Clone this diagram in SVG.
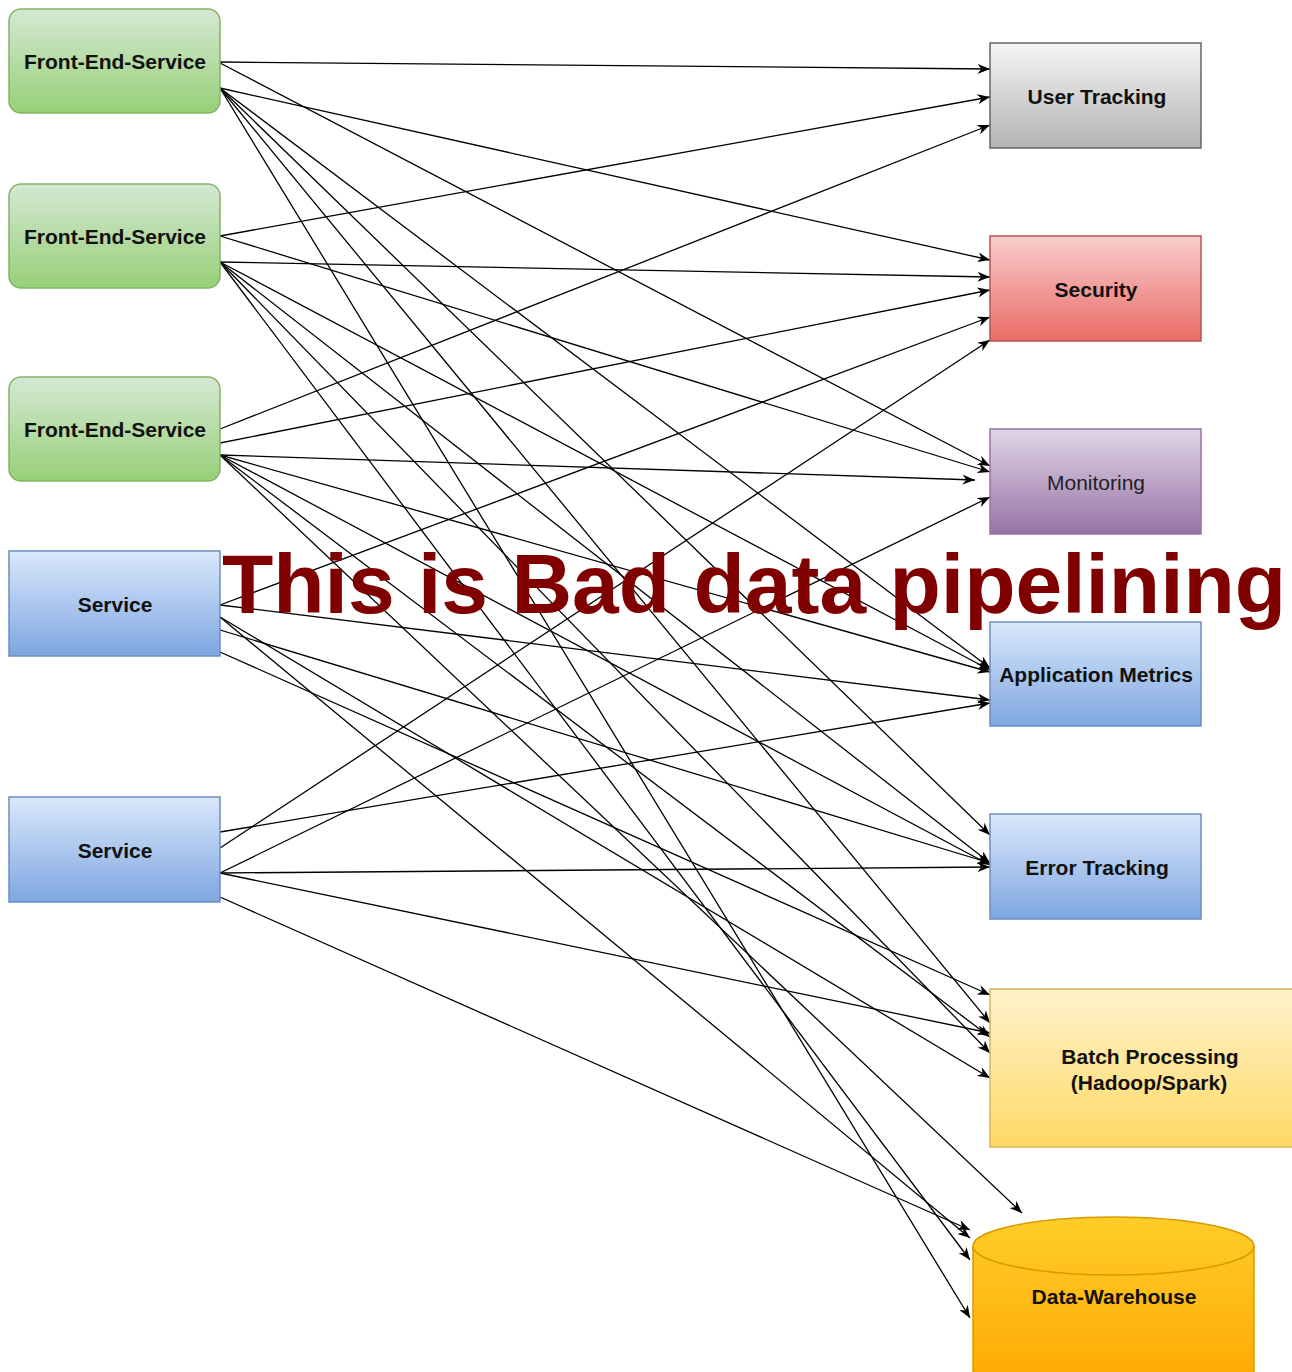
<svg xmlns="http://www.w3.org/2000/svg" width="1292" height="1372" viewBox="0 0 1292 1372">
<defs>
<linearGradient id="gGreen" x1="0" y1="0" x2="0" y2="1"><stop offset="0" stop-color="#d5e8d4"/><stop offset="1" stop-color="#97d077"/></linearGradient>
<linearGradient id="gBlue" x1="0" y1="0" x2="0" y2="1"><stop offset="0" stop-color="#dae8fc"/><stop offset="1" stop-color="#7ea6e0"/></linearGradient>
<linearGradient id="gGray" x1="0" y1="0" x2="0" y2="1"><stop offset="0" stop-color="#f5f5f5"/><stop offset="1" stop-color="#b3b3b3"/></linearGradient>
<linearGradient id="gRed" x1="0" y1="0" x2="0" y2="1"><stop offset="0" stop-color="#f8cecc"/><stop offset="1" stop-color="#ea6b66"/></linearGradient>
<linearGradient id="gPurple" x1="0" y1="0" x2="0" y2="1"><stop offset="0" stop-color="#e1d5e7"/><stop offset="1" stop-color="#9673a6"/></linearGradient>
<linearGradient id="gYellow" x1="0" y1="0" x2="0" y2="1"><stop offset="0" stop-color="#fff2cc"/><stop offset="1" stop-color="#ffd966"/></linearGradient>
<linearGradient id="gOrange" x1="0" y1="0" x2="0" y2="1"><stop offset="0" stop-color="#ffcd28"/><stop offset="1" stop-color="#ffa500"/></linearGradient>
<marker id="arr" viewBox="0 0 10 8" refX="10" refY="4" markerWidth="13" markerHeight="10" orient="auto" markerUnits="userSpaceOnUse"><path d="M0,0 L10,4 L0,8 L3,4 z" fill="#000"/></marker>
</defs>
<style>
.e{fill:none;stroke:#000;stroke-width:1.3;marker-end:url(#arr)}
.lbl{font-family:"Liberation Sans",Arial,sans-serif;font-size:21px;font-weight:bold;fill:#111;text-anchor:middle}
.reg{font-weight:normal;fill:#222}
.green{fill:url(#gGreen);stroke:#82b366;stroke-width:1.5}
.blue{fill:url(#gBlue);stroke:#6c8ebf;stroke-width:1.5}
.gray{fill:url(#gGray);stroke:#666666;stroke-width:1.5}
.red{fill:url(#gRed);stroke:#b85450;stroke-width:1.5}
.purple{fill:url(#gPurple);stroke:#9673a6;stroke-width:1.5}
.yellow{fill:url(#gYellow);stroke:#d6b656;stroke-width:1.5}
.orange{fill:url(#gOrange);stroke:#d79b00;stroke-width:1.5}
.title{font-family:"Liberation Sans",Arial,sans-serif;font-size:84px;font-weight:bold;fill:#800000}
</style>
<rect width="1292" height="1372" fill="#fff"/>

<g id="connectors">
<path class="e" d="M220,62 L990,69"/>
<path class="e" d="M220,88 L990,260"/>
<path class="e" d="M220,63 L990,466"/>
<path class="e" d="M220,88 L990,668"/>
<path class="e" d="M220,88 L990,835"/>
<path class="e" d="M220,88 L990,1023"/>
<path class="e" d="M220,88 L970,1318"/>

<path class="e" d="M220,236 L990,97"/>
<path class="e" d="M220,262 L990,277"/>
<path class="e" d="M220,236 L990,472"/>
<path class="e" d="M220,262 L990,670"/>
<path class="e" d="M220,262 L990,863"/>
<path class="e" d="M220,262 L990,1053"/>
<path class="e" d="M220,262 L970,1260"/>

<path class="e" d="M220,429 L990,125"/>
<path class="e" d="M220,443 L990,290"/>
<path class="e" d="M220,455 L975,480"/>
<path class="e" d="M220,455 L990,672"/>
<path class="e" d="M220,455 L990,865"/>
<path class="e" d="M220,455 L990,1037"/>
<path class="e" d="M220,455 L1022,1213"/>

<path class="e" d="M220,605 L990,317"/>
<path class="e" d="M220,605 L990,700"/>
<path class="e" d="M220,630 L990,863"/>
<path class="e" d="M220,652 L990,995"/>
<path class="e" d="M220,617 L990,1078"/>
<path class="e" d="M220,617 L970,1238"/>

<path class="e" d="M220,848 L990,340"/>
<path class="e" d="M220,873 L990,497"/>
<path class="e" d="M220,832 L990,703"/>
<path class="e" d="M220,873 L990,867"/>
<path class="e" d="M220,873 L990,1033"/>
<path class="e" d="M220,897 L970,1230"/>
</g>

<g id="fes1"><rect class="green" x="9" y="9" width="211" height="104" rx="12"/><text class="lbl" x="115" y="69">Front-End-Service</text></g>
<g id="fes2"><rect class="green" x="9" y="184" width="211" height="104" rx="12"/><text class="lbl" x="115" y="244">Front-End-Service</text></g>
<g id="fes3"><rect class="green" x="9" y="377" width="211" height="104" rx="12"/><text class="lbl" x="115" y="437">Front-End-Service</text></g>
<g id="service1"><rect class="blue" x="9" y="551" width="211" height="105"/><text class="lbl" x="115" y="612">Service</text></g>
<g id="service2"><rect class="blue" x="9" y="797" width="211" height="105"/><text class="lbl" x="115" y="858">Service</text></g>

<g id="user-tracking"><rect class="gray" x="990" y="43" width="211" height="105"/><text class="lbl" x="1097" y="104">User Tracking</text></g>
<g id="security"><rect class="red" x="990" y="236" width="211" height="105"/><text class="lbl" x="1096" y="297">Security</text></g>
<g id="monitoring"><rect class="purple" x="990" y="429" width="211" height="105"/><text class="lbl reg" x="1096" y="490">Monitoring</text></g>
<g id="app-metrics"><rect class="blue" x="990" y="622" width="211" height="104"/><text class="lbl" x="1096" y="682">Application Metrics</text></g>
<g id="error-tracking"><rect class="blue" x="990" y="814" width="211" height="105"/><text class="lbl" x="1097" y="875">Error Tracking</text></g>
<g id="batch"><rect class="yellow" x="990" y="989" width="320" height="158"/><text class="lbl" x="1150" y="1064">Batch Processing</text><text class="lbl" x="1149" y="1090">(Hadoop/Spark)</text></g>
<g id="data-warehouse"><path class="orange" d="M973,1246 A140.5,29 0 0 1 1254,1246 L1254,1400 L973,1400 Z"/><path d="M973,1246 A140.5,29 0 0 0 1254,1246" fill="none" stroke="#d79b00" stroke-width="1.5"/><text class="lbl" x="1114" y="1304">Data-Warehouse</text></g>

<text class="title" x="222" y="613">This is Bad data pipelining</text>
</svg>
